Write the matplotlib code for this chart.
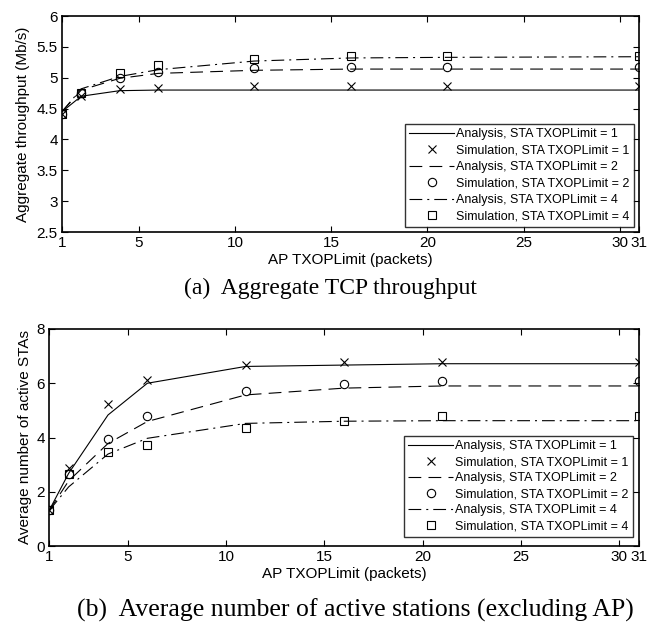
import matplotlib
matplotlib.use("Agg")
import matplotlib.pyplot as plt

plt.rcParams['font.family'] = ['Liberation Sans', 'DejaVu Sans']

ap_txop = [1, 2, 4, 6, 11, 16, 21, 31]
x_ticks = [1, 5, 10, 15, 20, 25, 30, 31]

# (a) Aggregate throughput (Mb/s)
thr_ana1 = [4.45, 4.70, 4.79, 4.80, 4.80, 4.80, 4.80, 4.80]
thr_sim1 = [4.42, 4.70, 4.81, 4.84, 4.865, 4.87, 4.87, 4.87]
thr_ana2 = [4.45, 4.80, 4.99, 5.07, 5.12, 5.14, 5.14, 5.14]
thr_sim2 = [4.42, 4.76, 5.00, 5.09, 5.16, 5.18, 5.18, 5.18]
thr_ana4 = [4.45, 4.82, 5.02, 5.13, 5.27, 5.32, 5.33, 5.34]
thr_sim4 = [4.42, 4.75, 5.07, 5.21, 5.31, 5.35, 5.35, 5.35]

# (b) Average number of active STAs
sta_ana1 = [1.30, 2.68, 4.83, 6.00, 6.62, 6.67, 6.72, 6.72]
sta_sim1 = [1.32, 2.86, 5.24, 6.13, 6.68, 6.77, 6.77, 6.77]
sta_ana2 = [1.30, 2.40, 3.78, 4.59, 5.57, 5.82, 5.90, 5.90]
sta_sim2 = [1.32, 2.65, 3.93, 4.80, 5.71, 5.96, 6.07, 6.10]
sta_ana4 = [1.30, 2.18, 3.39, 3.97, 4.52, 4.60, 4.62, 4.62]
sta_sim4 = [1.32, 2.67, 3.45, 3.72, 4.34, 4.59, 4.80, 4.80]

labels = ["Analysis, STA TXOPLimit = 1", "Simulation, STA TXOPLimit = 1",
          "Analysis, STA TXOPLimit = 2", "Simulation, STA TXOPLimit = 2",
          "Analysis, STA TXOPLimit = 4", "Simulation, STA TXOPLimit = 4"]

W, H = 657, 622
fig = plt.figure(figsize=(W / 100, H / 100), dpi=100)

def px_axes(l, t, r, b):
    return fig.add_axes([l / W, 1 - b / H, (r - l) / W, (b - t) / H])

def draw(ax, series, ylim, yticks, ylabel, leg_rb, ylabelpad, lspace):
    a1, s1, a2, s2, a4, s4 = series
    lw = 0.8
    ax.plot(ap_txop, a1, '-', color='black', lw=lw, label=labels[0])
    ax.plot(ap_txop, s1, 'x', color='black', ms=6, mew=0.8, ls='none', label=labels[1])
    ax.plot(ap_txop, a2, '--', color='black', lw=lw, dashes=(11.5, 6.5), label=labels[2])
    ax.plot(ap_txop, s2, 'o', color='black', mfc='none', ms=6, mew=0.8, ls='none', label=labels[3])
    ax.plot(ap_txop, a4, '-.', color='black', lw=lw, dashes=(11.5, 4.5, 1.8, 4.5), label=labels[4])
    ax.plot(ap_txop, s4, 's', color='black', mfc='none', ms=5.5, mew=0.8, ls='none', label=labels[5])
    ax.set_xlim(1, 31)
    ax.set_ylim(*ylim)
    ax.set_xticks(x_ticks)
    ax.set_xticklabels([str(v) for v in x_ticks])
    ax.set_yticks(yticks)
    ax.set_yticklabels([('%g' % v) for v in yticks])
    ax.tick_params(direction='in', top=True, right=True, labelsize=11, length=4, width=0.8, pad=3)
    for s in ax.spines.values():
        s.set_linewidth(1.2)
    ax.set_ylabel(ylabel, fontsize=11, labelpad=ylabelpad)
    ax.set_xlabel("AP TXOPLimit (packets)", fontsize=11, labelpad=2)
    leg = ax.legend(loc='lower right', bbox_to_anchor=(leg_rb[0] / W, 1 - leg_rb[1] / H),
                    bbox_transform=fig.transFigure, fontsize=9, frameon=True, fancybox=False,
                    handlelength=3.6, labelspacing=lspace, borderpad=0.35, handletextpad=0.15,
                    borderaxespad=0)
    leg.get_frame().set_edgecolor('black')
    leg.get_frame().set_linewidth(1.0)

ax1 = px_axes(62, 16, 639, 232)
draw(ax1, [thr_ana1, thr_sim1, thr_ana2, thr_sim2, thr_ana4, thr_sim4],
     (2.5, 6), [2.5, 3, 3.5, 4, 4.5, 5, 5.5, 6], "Aggregate throughput (Mb/s)", (634, 227), 5, 0.36)

ax2 = px_axes(49, 329, 639, 546)
draw(ax2, [sta_ana1, sta_sim1, sta_ana2, sta_sim2, sta_ana4, sta_sim4],
     (0, 8), [0, 2, 4, 6, 8], "Average number of active STAs", (633, 537), 3, 0.33)

fig.text(330 / W, 1 - 294 / H, "(a)  Aggregate TCP throughput", ha='center', va='baseline',
         fontsize=17, family=['Liberation Serif', 'DejaVu Serif'])
fig.text(355 / W, 1 - 617 / H, "(b)  Average number of active stations (excluding AP)", ha='center',
         va='baseline', fontsize=18.5, family=['Liberation Serif', 'DejaVu Serif'])

fig.savefig("out.png", dpi=100)
